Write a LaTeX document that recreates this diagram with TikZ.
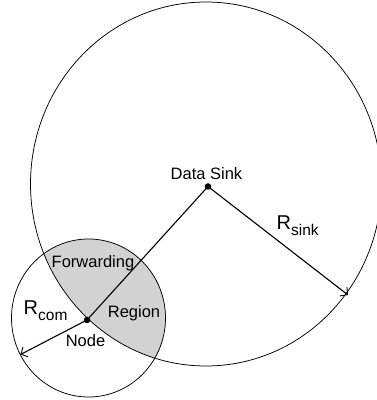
\documentclass[tikz,border=0pt]{standalone}
\usepackage{fontspec}
\setmainfont{Liberation Sans}
\usetikzlibrary{arrows.meta,positioning}
\definecolor{RegionGray}{HTML}{D2D2D2}

\begin{document}
\begin{tikzpicture}[x=1pt, y=1pt,
          dot/.style={circle, fill=black, inner sep=0pt, minimum size=6.5pt},
          rim/.style={line width=0.75pt},
          radial/.style={line width=1.1pt},
          tip/.style={-{Straight Barb[length=5pt, width=11pt, line width=0.9pt]}},
          lbl/.style={font=\fontsize{16.5}{18}\selectfont, inner sep=0pt, anchor=base},
          rlbl/.style={inner sep=0pt, anchor=base west}
        ]
          \useasboundingbox (0,0) rectangle (377,400);
          % forwarding region = overlap of both ranges
          \begin{scope}
            \clip (206,216) ellipse [x radius=175.5, y radius=182];
            \fill[RegionGray] (88.5,82) ellipse [x radius=77, y radius=79];
          \end{scope}
          \draw[rim] (206,216) ellipse [x radius=175.5, y radius=182];
          \draw[rim] (88.5,82) ellipse [x radius=77, y radius=79];
          \node[dot] (sink) at (208,213.5) {};
          \node[dot] (node) at (87,80) {};
          \coordinate (sinkrim) at (348,105);
          \coordinate (comrim) at (20.5,45.5);
          \draw[radial] (node.center) -- (sink.center);
          \draw[radial, tip] (sink.center) -- (sinkrim);
          \draw[radial, tip] (node.center) -- (comrim);
          % labels
          \node[lbl] (sinklbl) at (206.5,220) {Data Sink};
          \node[lbl] (fwdlbl) at (93,132) {Forwarding};
          \node[lbl] (reglbl) at (134,82) {Region};
          \node[lbl] (nodelbl) at (85.5,53) {Node};
          \node[rlbl] (rsink) at (276.5,170) {\fontsize{20}{22}\selectfont R\raisebox{-5.5pt}{\fontsize{15.5}{16}\selectfont sink}};
          \node[rlbl] (rcom) at (23.5,85) {\fontsize{20}{22}\selectfont R\raisebox{-5.5pt}{\fontsize{15.5}{16}\selectfont com}};
        \end{tikzpicture}
\end{document}
